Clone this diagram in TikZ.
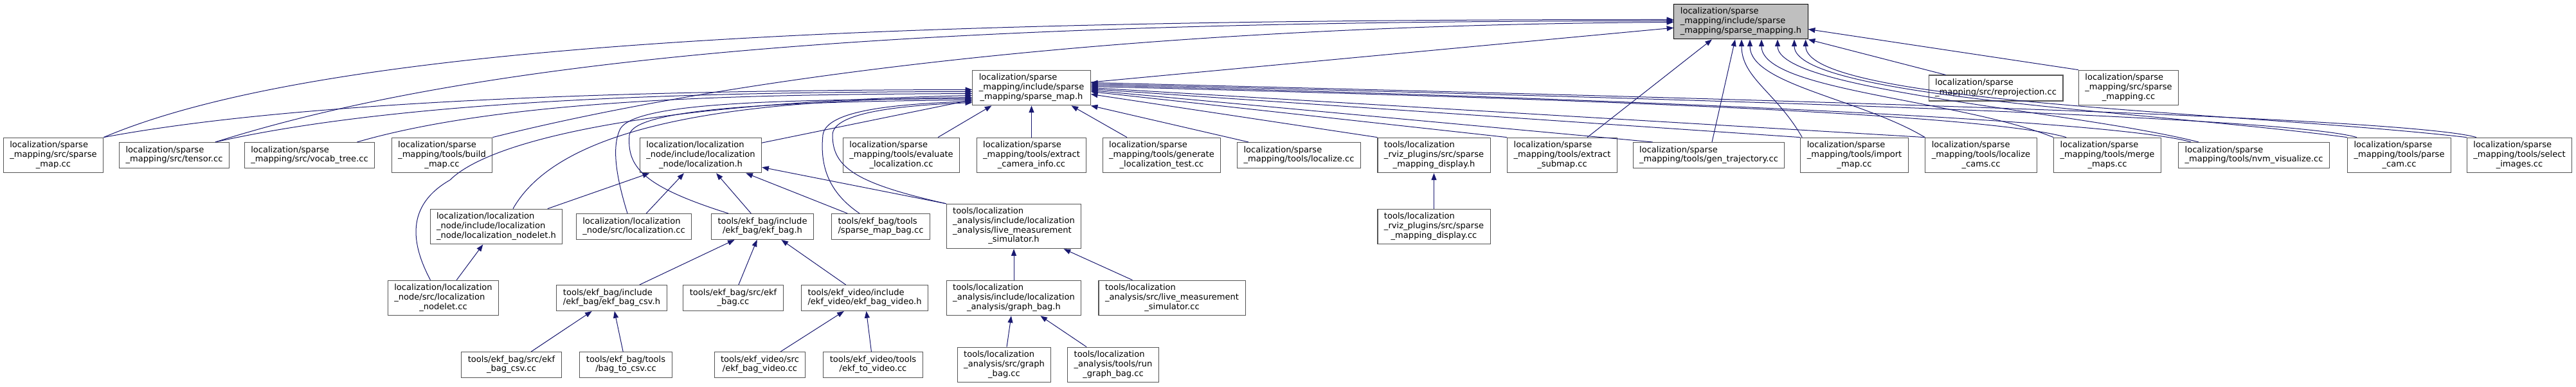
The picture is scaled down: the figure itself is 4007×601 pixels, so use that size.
\documentclass[tikz,border=0pt]{standalone}
\usepackage{fontspec}
\setmainfont{DejaVu Sans}
\usepackage{tikz}
\usetikzlibrary{arrows.meta,calc}
\definecolor{EdgeBlue}{HTML}{191970}
\definecolor{RootGrey}{HTML}{BFBFBF}
\definecolor{BoxLine}{HTML}{555555}
\newcommand{\lbltwo}[2]{\begin{tabular}{@{}l@{}}#1\\\multicolumn{1}{@{}c@{}}{#2}\end{tabular}}
\newcommand{\lblthree}[3]{\begin{tabular}{@{}l@{}}#1\\#2\\\multicolumn{1}{@{}c@{}}{#3}\end{tabular}}
\newcommand{\lblfour}[4]{\begin{tabular}{@{}l@{}}#1\\#2\\#3\\\multicolumn{1}{@{}c@{}}{#4}\end{tabular}}

\begin{document}
\begin{tikzpicture}[x=0.75pt, y=-0.75pt, every node/.style={font=\fontsize{9.8}{11}\selectfont}, box/.style={draw=BoxLine, fill=white, line width=0.8pt, inner xsep=7.5pt, inner ysep=4pt}, rootbox/.style={box, draw=black, fill=RootGrey}, inc/.style={-{Triangle[length=8pt,width=6pt]}, draw=EdgeBlue, line width=0.75pt}]
\useasboundingbox (0,0) rectangle (4007,601);
% headers
\node[rootbox] (root) at (2708,33.5) {\lblthree{localization/sparse}{\_mapping/include/sparse}{\_mapping/sparse\_mapping.h}};
\node[box] (smh) at (1604.5,136.5) {\lblthree{localization/sparse}{\_mapping/include/sparse}{\_mapping/sparse\_map.h}};
\node[box] (repro) at (3104.5,137) {\lbltwo{localization/sparse}{\_mapping/src/reprojection.cc}};
\node[box] (smcc) at (3311,136.5) {\lblthree{localization/sparse}{\_mapping/src/sparse}{\_mapping.cc}};
% row of sources and tools
\node[box] (smapcc) at (83,241.5) {\lblthree{localization/sparse}{\_mapping/src/sparse}{\_map.cc}};
\node[box] (tensor) at (271,241.5) {\lbltwo{localization/sparse}{\_mapping/src/tensor.cc}};
\node[box] (vocab) at (481.5,241.5) {\lbltwo{localization/sparse}{\_mapping/src/vocab\_tree.cc}};
\node[box] (build) at (687.5,241.5) {\lblthree{localization/sparse}{\_mapping/tools/build}{\_map.cc}};
\node[box] (loch) at (1090,241.5) {\lblthree{localization/localization}{\_node/include/localization}{\_node/localization.h}};
\node[box] (evalloc) at (1402,241.5) {\lblthree{localization/sparse}{\_mapping/tools/evaluate}{\_localization.cc}};
\node[box] (extcam) at (1604.5,241.5) {\lblthree{localization/sparse}{\_mapping/tools/extract}{\_camera\_info.cc}};
\node[box] (genloc) at (1807,241.5) {\lblthree{localization/sparse}{\_mapping/tools/generate}{\_localization\_test.cc}};
\node[box] (localize) at (2020.5,241.5) {\lbltwo{localization/sparse}{\_mapping/tools/localize.cc}};
\node[box] (rvizh) at (2230.5,241.5) {\lblthree{tools/localization}{\_rviz\_plugins/src/sparse}{\_mapping\_display.h}};
\node[box] (extsub) at (2430,241.5) {\lblthree{localization/sparse}{\_mapping/tools/extract}{\_submap.cc}};
\node[box] (gentraj) at (2658,241.5) {\lbltwo{localization/sparse}{\_mapping/tools/gen\_trajectory.cc}};
\node[box] (import) at (2884.5,241.5) {\lblthree{localization/sparse}{\_mapping/tools/import}{\_map.cc}};
\node[box] (loccams) at (3081.5,241.5) {\lblthree{localization/sparse}{\_mapping/tools/localize}{\_cams.cc}};
\node[box] (merge) at (3278,241.5) {\lblthree{localization/sparse}{\_mapping/tools/merge}{\_maps.cc}};
\node[box] (nvm) at (3506,241.5) {\lbltwo{localization/sparse}{\_mapping/tools/nvm\_visualize.cc}};
\node[box] (parse) at (3732,241.5) {\lblthree{localization/sparse}{\_mapping/tools/parse}{\_cam.cc}};
\node[box] (select) at (3919,241.5) {\lblthree{localization/sparse}{\_mapping/tools/select}{\_images.cc}};
% localization node, ekf bag, analysis
\node[box] (nodeleth) at (772,352.5) {\lblthree{localization/localization}{\_node/include/localization}{\_node/localization\_nodelet.h}};
\node[box] (loccc) at (986,352.5) {\lbltwo{localization/localization}{\_node/src/localization.cc}};
\node[box] (ekfh) at (1186,352.5) {\lbltwo{tools/ekf\_bag/include}{/ekf\_bag/ekf\_bag.h}};
\node[box] (smbag) at (1370,352.5) {\lbltwo{tools/ekf\_bag/tools}{/sparse\_map\_bag.cc}};
\node[box] (livesimh) at (1577,352) {\lblfour{tools/localization}{\_analysis/include/localization}{\_analysis/live\_measurement}{\_simulator.h}};
\node[box] (rvizcc) at (2230.5,352.5) {\lblthree{tools/localization}{\_rviz\_plugins/src/sparse}{\_mapping\_display.cc}};
\node[box] (nodeletcc) at (689.5,463.5) {\lblthree{localization/localization}{\_node/src/localization}{\_nodelet.cc}};
\node[box] (csvh) at (951.5,463.5) {\lbltwo{tools/ekf\_bag/include}{/ekf\_bag/ekf\_bag\_csv.h}};
\node[box] (ekfcc) at (1140.5,463.5) {\lbltwo{tools/ekf\_bag/src/ekf}{\_bag.cc}};
\node[box] (videoh) at (1345,463.5) {\lbltwo{tools/ekf\_video/include}{/ekf\_video/ekf\_bag\_video.h}};
\node[box] (graphh) at (1577,463.5) {\lblthree{tools/localization}{\_analysis/include/localization}{\_analysis/graph\_bag.h}};
\node[box] (livesimcc) at (1823,463.5) {\lblthree{tools/localization}{\_analysis/src/live\_measurement}{\_simulator.cc}};
\node[box] (csvcc) at (795.5,567.5) {\lbltwo{tools/ekf\_bag/src/ekf}{\_bag\_csv.cc}};
\node[box] (bagcsv) at (973.5,567.5) {\lbltwo{tools/ekf\_bag/tools}{/bag\_to\_csv.cc}};
\node[box] (videocc) at (1182,567.5) {\lbltwo{tools/ekf\_video/src}{/ekf\_bag\_video.cc}};
\node[box] (ekfvid) at (1358,567.5) {\lbltwo{tools/ekf\_video/tools}{/ekf\_to\_video.cc}};
\node[box] (graphcc) at (1562,567.5) {\lblthree{tools/localization}{\_analysis/src/graph}{\_bag.cc}};
\node[box] (rungraph) at (1731.5,567.5) {\lblthree{tools/localization}{\_analysis/tools/run}{\_graph\_bag.cc}};

% includes of sparse_mapping.h
\draw[inc] (smh) -- (root);
\draw[inc] (smapcc.north east) .. controls (500,70) and (1300,30) .. ($(root.west)+(0,-3)$);
\draw[inc] ($(tensor.north)+(64,0)$) .. controls (750,90) and (1400,32) .. ($(root.west)+(0,-1)$);
\draw[inc] (build.north east) .. controls (1100,130) and (1700,40) .. ($(root.west)+(0,1)$);
\draw[inc] ($(extsub.north)+(39,0)$) -- ($(root.south)+(-45,0)$);
\draw[inc] ($(gentraj.north)+(5,0)$) -- ($(root.south)+(-9,0)$);
\draw[inc] ($(import.north west)+(3,0)$) .. controls +(-40,-70) and +(0,60) .. ($(root.south)+(1,0)$);
\draw[inc] (loccams.north west) .. controls +(-100,-60) and +(0,70) .. ($(root.south)+(14,0)$);
\draw[inc] (merge.north west) .. controls +(-150,-60) and +(0,80) .. ($(root.south)+(32,0)$);
\draw[inc] ($(nvm.north west)+(32,0)$) .. controls +(-200,-50) and +(0,80) .. ($(root.south)+(57,0)$);
\draw[inc] (parse.north west) .. controls +(-300,-40) and +(0,90) .. ($(root.south)+(83,0)$);
\draw[inc] (select.north west) .. controls +(-350,-40) and +(0,100) .. ($(root.south east)+(-4,0)$);
\draw[inc] ($(repro.north west)+(27,0)$) -- (root.south east);
\draw[inc] (smcc.north west) -- ($(root.east)+(0,12)$);

% includes of sparse_map.h
\draw[inc] (smapcc.north east) .. controls (500,150) and (1100,140) .. ($(smh.west)+(0,3)$);
\draw[inc] ($(tensor.north)+(64,0)$) .. controls (650,150) and (1150,143) .. ($(smh.west)+(0,6)$);
\draw[inc] ($(vocab.north)+(74,0)$) .. controls (800,150) and (1200,147) .. ($(smh.west)+(0,9)$);
\draw[inc] ($(nodeletcc.north)+(-20,0)$) .. controls (640,380) and (630,320) .. (700,280) .. controls (760,220) and (1000,160) .. ($(smh.west)+(0,12)$);
\draw[inc] ($(nodeleth.north)+(26,0)$) .. controls (880,180) and (1200,155) .. ($(smh.west)+(0,15)$);
\draw[inc] (loch) -- (smh);
\draw[inc] ($(loccc.north)+(-10,0)$) .. controls (960,280) and (950,230) .. (965,200) .. controls (990,160) and (1200,155) .. ($(smh.west)+(0,17)$);
\draw[inc] ($(ekfh.north west)+(27,0)$) .. controls (1000,290) and (975,260) .. (979,210) .. controls (985,170) and (1200,158) .. ($(smh.west)+(0,19)$);
\draw[inc] ($(smbag.north)+(-33,0)$) .. controls (1290,300) and (1275,260) .. (1280,210) .. controls (1285,170) and (1400,162) .. ($(smh.west)+(0,21)$);
\draw[inc] (livesimh.north west) .. controls (1330,285) and (1295,260) .. (1295,210) .. controls (1295,175) and (1400,164) .. ($(smh.west)+(0,23)$);
\draw[inc] ($(evalloc.north)+(57,0)$) -- ($(smh.south)+(-62,0)$);
\draw[inc] (extcam) -- (smh);
\draw[inc] ($(genloc.north)+(-54,0)$) -- ($(smh.south)+(62,0)$);
\draw[inc] ($(localize.north west)+(18,0)$) -- (smh.south east);
\draw[inc] (rvizh.north west) -- ($(smh.east)+(0,10)$);
\draw[inc] (extsub.north west) -- ($(smh.east)+(0,6)$);
\draw[inc] ($(gentraj.north west)+(31,0)$) -- ($(smh.east)+(0,4)$);
\draw[inc] (import.north west) -- ($(smh.east)+(0,2)$);
\draw[inc] (loccams.north west) -- (smh.east);
\draw[inc] ($(merge.north west)+(20,0)$) .. controls +(-120,-35) and +(800,20) .. ($(smh.east)+(0,-2)$);
\draw[inc] ($(nvm.north west)+(20,0)$) .. controls +(-120,-35) and +(800,20) .. ($(smh.east)+(0,-4)$);
\draw[inc] ($(parse.north west)+(15,0)$) .. controls +(-120,-35) and +(800,20) .. ($(smh.east)+(0,-6)$);
\draw[inc] ($(select.north west)+(15,0)$) .. controls +(-120,-35) and +(800,20) .. ($(smh.east)+(0,-8)$);

% lower levels
\draw[inc] (nodeleth) -- (loch);
\draw[inc] (loccc) -- (loch);
\draw[inc] (ekfh) -- (loch);
\draw[inc] (smbag) -- (loch);
\draw[inc] (livesimh.north west) -- (loch);
\draw[inc] (rvizcc) -- (rvizh);
\draw[inc] (nodeletcc) -- (nodeleth);
\draw[inc] (csvh) -- (ekfh);
\draw[inc] (ekfcc) -- (ekfh);
\draw[inc] (videoh) -- (ekfh);
\draw[inc] (graphh) -- (livesimh);
\draw[inc] (livesimcc) -- (livesimh);
\draw[inc] (csvcc) -- (csvh);
\draw[inc] (bagcsv) -- (csvh);
\draw[inc] (videocc) -- (videoh);
\draw[inc] (ekfvid) -- (videoh);
\draw[inc] (graphcc) -- (graphh);
\draw[inc] (rungraph) -- (graphh);
\end{tikzpicture}
\end{document}
